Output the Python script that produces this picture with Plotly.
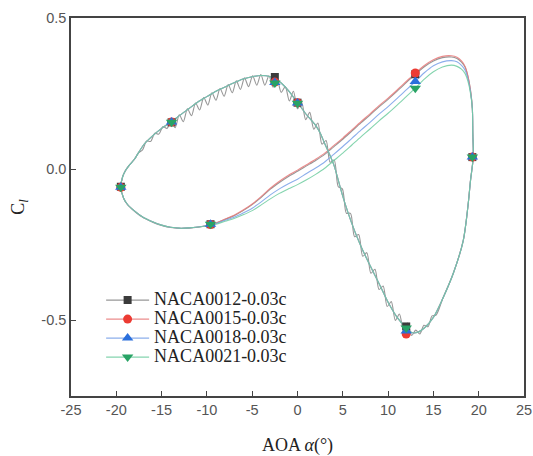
import plotly.graph_objects as go

# ---------------------------------------------------------------------------
# Lift coefficient over one pitching cycle (angle of attack in degrees)
# ---------------------------------------------------------------------------

# Upstroke (alpha increasing) shared by the thicker sections
alpha_up = [-19.5, -19.3, -19.0, -18.6, -18.0, -17.0, -16.0, -15.0, -14.0, -13.0,
            -12.0, -11.0, -10.0, -9.0, -8.0, -7.0, -6.0, -5.0, -4.0, -3.0,
            -2.0, -1.0, 0.0, 1.0, 2.0, 2.5, 3.0, 4.0, 5.0, 6.0,
            7.0, 8.0, 9.0, 10.0, 11.0, 12.0, 12.6, 13.2, 14.0, 15.0,
            16.0, 17.2, 18.3, 18.8, 19.1, 19.4]
cl_up = [-0.06, -0.025, -0.005, 0.012, 0.033, 0.08, 0.11, 0.135, 0.155, 0.178,
         0.2, 0.222, 0.24, 0.258, 0.272, 0.286, 0.298, 0.306, 0.31, 0.306,
         0.29, 0.26, 0.22, 0.18, 0.145, 0.12, 0.085, 0.015, -0.09, -0.18,
         -0.255, -0.318, -0.378, -0.44, -0.49, -0.525, -0.54, -0.54, -0.525, -0.49,
         -0.43, -0.344, -0.235, -0.126, -0.036, 0.04]

# Upstroke of NACA0012, which carries a high-frequency fluctuation
alpha_up_0012 = [-19.5, -19.3, -19.0, -18.6, -18.0, -17.55,
                 -17.10, -16.65, -16.20, -15.75, -15.30, -14.85, -14.40, -13.95, -13.50, -13.05,
                 -12.60, -12.15, -11.70, -11.25, -10.80, -10.35, -9.90, -9.45, -9.00, -8.55,
                 -8.10, -7.65, -7.20, -6.75, -6.30, -5.85, -5.40, -4.95, -4.50, -4.05,
                 -3.60, -3.15, -2.70, -2.25, -1.80, -1.35, -0.90, -0.45, 0.00, 0.45,
                 0.90, 1.35, 1.80, 2.25, 2.70, 3.15, 3.60, 4.05, 4.50, 4.95,
                 5.40, 5.85, 6.30, 6.75, 7.20, 7.65, 8.10, 8.55, 9.00, 9.45,
                 9.90, 10.35, 10.80, 11.25, 11.70, 12.15, 12.60, 13.05, 13.50, 13.95,
                 14.40, 14.85, 15.30,
                 16.0, 17.2, 18.3, 18.8, 19.1, 19.4]
cl_up_0012 = [-0.06, -0.025, -0.005, 0.012, 0.033, 0.054,
              0.064, 0.093, 0.092, 0.119, 0.116, 0.141, 0.135, 0.159, 0.137, 0.18,
              0.157, 0.2, 0.177, 0.219, 0.196, 0.237, 0.212, 0.253, 0.228, 0.267,
              0.241, 0.28, 0.253, 0.292, 0.264, 0.302, 0.273, 0.309, 0.278, 0.313,
              0.278, 0.309, 0.271, 0.297, 0.254, 0.273, 0.226, 0.258, 0.2, 0.222,
              0.164, 0.188, 0.132, 0.153, 0.083, 0.095, 0.023, 0.03, -0.058, -0.065,
              -0.146, -0.146, -0.223, -0.216, -0.288, -0.276, -0.344, -0.331, -0.398, -0.386,
              -0.454, -0.438, -0.5, -0.479, -0.534, -0.509, -0.55, -0.532, -0.545, -0.516,
              -0.521, -0.485, -0.482,
              -0.43, -0.344, -0.235, -0.126, -0.036, 0.04]

# Downstroke (alpha decreasing from the maximum back to the minimum)
alpha_down = [19.35, 19.3, 19.1, 18.8, 18.5, 18.1, 17.6, 17.0, 16.0, 15.0,
              14.0, 13.0, 12.0, 11.0, 10.0, 9.0, 8.0, 7.0, 6.0, 5.0,
              4.0, 3.0, 2.0, 1.0, 0.0, -1.0, -2.0, -3.0, -4.0, -5.0,
              -6.0, -7.0, -8.0, -9.0, -10.0, -11.0, -12.0, -13.0, -14.0, -15.0,
              -16.0, -17.0, -18.0, -18.8, -19.2, -19.5]
cl_down_0012 = [0.12, 0.2, 0.26, 0.308, 0.337, 0.354, 0.366, 0.371, 0.369, 0.358,
                0.339, 0.314, 0.286, 0.258, 0.231, 0.206, 0.179, 0.153, 0.126, 0.099,
                0.074, 0.049, 0.029, 0.011, -0.007, -0.024, -0.044, -0.066, -0.093, -0.117,
                -0.137, -0.154, -0.166, -0.179, -0.187, -0.192, -0.195, -0.196, -0.193, -0.186,
                -0.175, -0.161, -0.139, -0.116, -0.096, -0.06]
cl_down_0015 = [0.12, 0.2, 0.26, 0.31, 0.34, 0.358, 0.37, 0.375, 0.373, 0.362,
                0.343, 0.318, 0.29, 0.262, 0.235, 0.21, 0.183, 0.157, 0.13, 0.103,
                0.078, 0.053, 0.033, 0.015, -0.003, -0.02, -0.04, -0.063, -0.09, -0.115,
                -0.135, -0.152, -0.165, -0.178, -0.186, -0.191, -0.194, -0.195, -0.192, -0.185,
                -0.174, -0.16, -0.138, -0.115, -0.095, -0.06]
cl_down_0018 = [0.12, 0.2, 0.255, 0.3, 0.327, 0.343, 0.355, 0.359, 0.355, 0.342,
                0.319, 0.29, 0.262, 0.234, 0.207, 0.182, 0.155, 0.129, 0.102, 0.075,
                0.049, 0.024, 0.004, -0.014, -0.033, -0.048, -0.065, -0.085, -0.108, -0.129,
                -0.145, -0.159, -0.169, -0.18, -0.186, -0.191, -0.194, -0.195, -0.192, -0.185,
                -0.174, -0.16, -0.138, -0.115, -0.095, -0.06]
cl_down_0021 = [0.12, 0.2, 0.25, 0.292, 0.316, 0.331, 0.34, 0.344, 0.338, 0.322,
                0.298, 0.268, 0.24, 0.212, 0.185, 0.16, 0.133, 0.107, 0.08, 0.053,
                0.028, 0.003, -0.017, -0.035, -0.051, -0.065, -0.08, -0.098, -0.118, -0.137,
                -0.151, -0.163, -0.172, -0.182, -0.188, -0.191, -0.194, -0.195, -0.192, -0.185,
                -0.174, -0.16, -0.138, -0.115, -0.095, -0.06]

# Sampled points shown with symbols
marker_alpha = [-19.5, -13.9, -2.5, 0.0, 13.0, 19.3, 12.0, -9.6]
marker_cl_0012 = [-0.058, 0.155, 0.305, 0.22, 0.314, 0.04, -0.52, -0.182]
marker_cl_0015 = [-0.06, 0.156, 0.288, 0.22, 0.318, 0.04, -0.545, -0.183]
marker_cl_0018 = [-0.06, 0.156, 0.287, 0.219, 0.29, 0.04, -0.535, -0.182]
marker_cl_0021 = [-0.06, 0.155, 0.285, 0.218, 0.268, 0.04, -0.525, -0.182]

series_names = ["NACA0012-0.03c", "NACA0015-0.03c", "NACA0018-0.03c", "NACA0021-0.03c"]

# Axis ticks
x_ticks = [-25, -20, -15, -10, -5, 0, 5, 10, 15, 20, 25]
x_tick_text = ["-25", "-20", "-15", "-10", "-5", "0", "5", "10", "15", "20", "25"]
y_ticks = [-0.5, 0.0, 0.5]
y_tick_text = ["-0.5", "0.0", "0.5"]

# ---------------------------------------------------------------------------
series = [
    dict(name=series_names[0], a_up=alpha_up_0012, c_up=cl_up_0012, c_down=cl_down_0012,
         m_cl=marker_cl_0012, line="rgba(125,125,125,0.8)", mcolor="#3b3b3b", symbol="square", msize=8),
    dict(name=series_names[1], a_up=alpha_up, c_up=cl_up, c_down=cl_down_0015,
         m_cl=marker_cl_0015, line="rgba(232,120,120,0.85)", mcolor="#ec3b33", symbol="circle", msize=9),
    dict(name=series_names[2], a_up=alpha_up, c_up=cl_up, c_down=cl_down_0018,
         m_cl=marker_cl_0018, line="rgba(120,160,232,0.85)", mcolor="#2a6fdc", symbol="triangle-up", msize=10),
    dict(name=series_names[3], a_up=alpha_up, c_up=cl_up, c_down=cl_down_0021,
         m_cl=marker_cl_0021, line="rgba(110,205,160,0.85)", mcolor="#28a365", symbol="triangle-down", msize=10),
]

fig = go.Figure()

# Closed hysteresis loops
for s in series:
    fig.add_trace(go.Scatter(
        x=list(s["a_up"]) + alpha_down,
        y=list(s["c_up"]) + s["c_down"],
        mode="lines",
        line=dict(color=s["line"], width=1.1, shape="spline", smoothing=0.8),
        showlegend=False, hoverinfo="skip",
    ))

# Symbols at the sampled points
for s in series:
    fig.add_trace(go.Scatter(
        x=marker_alpha, y=s["m_cl"], mode="markers",
        marker=dict(symbol=s["symbol"], size=s["msize"], color=s["mcolor"], line=dict(width=0)),
        showlegend=False, hoverinfo="skip",
    ))

# Legend keys (line + symbol)
for s in series:
    fig.add_trace(go.Scatter(
        x=[None], y=[None], mode="lines+markers",
        name='<span style="font-size:18px">' + s["name"] + "</span>",
        line=dict(color=s["line"], width=1.1),
        marker=dict(symbol=s["symbol"], size=s["msize"], color=s["mcolor"], line=dict(width=0)),
    ))

tick_font = dict(family="Liberation Sans, Arial, sans-serif", size=14.5, color="#555555")
title_font = dict(family="Liberation Serif, Times New Roman, serif", size=18, color="#222222")

fig.update_layout(
    width=533, height=456,
    margin=dict(l=71, r=9, t=18, b=60, pad=0),
    paper_bgcolor="white", plot_bgcolor="white",
    showlegend=True,
    legend=dict(
        x=0.0665, y=0.292, xanchor="left", yanchor="top",
        bgcolor="rgba(0,0,0,0)", borderwidth=0,
        font=dict(family="Liberation Serif, Times New Roman, serif", size=12, color="#222222"),
        itemwidth=43, tracegroupgap=0,
    ),
    xaxis=dict(
        range=[-25, 25], tickvals=x_ticks, ticktext=x_tick_text, automargin=False,
        ticks="inside", ticklen=5, tickwidth=1.2, tickcolor="#444444",
        showline=True, linecolor="#444444", linewidth=1.5, mirror=True,
        showgrid=False, zeroline=False, tickfont=tick_font,
        title=dict(text="AOA <i>α</i>(°)", font=title_font, standoff=22),
    ),
    yaxis=dict(
        range=[-0.75, 0.5], tickvals=y_ticks, ticktext=y_tick_text, automargin=False,
        ticks="inside", ticklen=5, tickwidth=1.2, tickcolor="#444444",
        showline=True, linecolor="#444444", linewidth=1.5, mirror=True,
        showgrid=False, zeroline=False, tickfont=tick_font,
        title=dict(text="C<sub><i>l</i></sub>", font=title_font, standoff=12),
    ),
)

fig.write_html("out.html")
